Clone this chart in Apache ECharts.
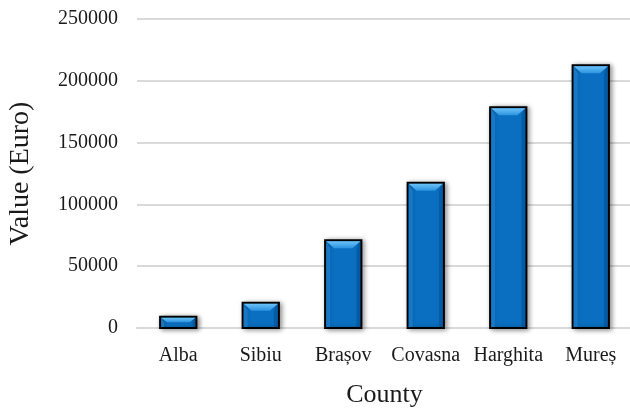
<!DOCTYPE html>
<html>
<head>
<meta charset="utf-8">
<script src="https://cdn.jsdelivr.net/npm/echarts@6/dist/echarts.min.js"></script>
<style>
  html, body { margin: 0; padding: 0; background: #fff; }
  #chart { width: 630px; height: 410px; }
</style>
</head>
<body>
<div id="chart"></div>
<script>
// County totals (Euro)
const counties = ['Alba', 'Sibiu', 'Brașov', 'Covasna', 'Harghita', 'Mureș'];
const values = [9200, 20500, 71000, 117500, 178500, 212500];
const yTicks = [0, 50000, 100000, 150000, 200000, 250000];

const FONT = '"Liberation Serif", "Times New Roman", serif';

const chart = echarts.init(document.getElementById('chart'));

// Beveled column: dark outline, lighter top facet, soft drop shadow
function renderBar(params, api) {
  const idx = api.value(0);
  const val = api.value(1);
  const top = api.coord([idx, val]);
  const base = api.coord([idx, 0]);
  const w = api.size([1, 0])[0] * 0.44;
  const x0 = top[0] - w / 2;
  const x1 = top[0] + w / 2;
  const y0 = top[1];
  const y1 = base[1];
  const h = y1 - y0;
  const b = Math.min(8, h / 2);
  return {
    type: 'group',
    children: [
      {
        type: 'rect',
        shape: { x: x0, y: y0, width: w, height: h },
        style: {
          fill: '#0a6fc0',
          stroke: '#000',
          lineWidth: 2,
          shadowBlur: 5,
          shadowOffsetX: 2,
          shadowOffsetY: 1,
          shadowColor: 'rgba(0,0,0,0.45)'
        }
      },
      {
        type: 'polygon',
        shape: { points: [[x0 + 1, y0 + 1], [x1 - 1, y0 + 1], [x1 - 1 - b, y0 + b], [x0 + 1 + b, y0 + b]] },
        style: {
          fill: new echarts.graphic.LinearGradient(0, 0, 0, 1, [
            { offset: 0, color: '#6cc2f8' },
            { offset: 1, color: '#2a93e0' }
          ])
        }
      },
      {
        type: 'polygon',
        shape: { points: [[x0 + 1, y0 + 1], [x0 + 1 + b * 0.5, y0 + b], [x0 + 1 + b * 0.5, y1 - 1], [x0 + 1, y1 - 1]] },
        style: { fill: 'rgba(40,140,220,0.55)' }
      },
      {
        type: 'polygon',
        shape: { points: [[x1 - 1, y0 + 1], [x1 - 1 - b * 0.5, y0 + b], [x1 - 1 - b * 0.5, y1 - 1], [x1 - 1, y1 - 1]] },
        style: { fill: 'rgba(0,60,120,0.35)' }
      }
    ]
  };
}

chart.setOption({
  animation: false,
  grid: { left: 137, top: 19, width: 495, height: 309, containLabel: false, outerBoundsMode: 'none' },
  xAxis: {
    type: 'category',
    data: counties,
    name: 'County',
    nameLocation: 'middle',
    nameGap: 54,
    nameTextStyle: { fontFamily: FONT, fontSize: 26, color: '#1a1a1a' },
    axisLine: { show: true, lineStyle: { color: '#d9d9d9', width: 2 } },
    axisTick: { show: false },
    axisLabel: { fontFamily: FONT, fontSize: 20, color: '#1a1a1a', margin: 18, interval: 0 }
  },
  yAxis: {
    type: 'value',
    min: yTicks[0],
    max: yTicks[yTicks.length - 1],
    interval: yTicks[1] - yTicks[0],
    name: 'Value (Euro)',
    nameLocation: 'middle',
    nameGap: 102,
    nameTextStyle: { fontFamily: FONT, fontSize: 28, color: '#1a1a1a' },
    axisLine: { show: false },
    axisTick: { show: false },
    axisLabel: { fontFamily: FONT, fontSize: 20, color: '#1a1a1a', margin: 19, formatter: v => String(v) },
    splitLine: { lineStyle: { color: '#d9d9d9', width: 2 } }
  },
  series: [{
    type: 'custom',
    renderItem: renderBar,
    data: values.map((v, i) => [i, v]),
    encode: { x: 0, y: 1 },
    z: 3
  }]
});
</script>
</body>
</html>
